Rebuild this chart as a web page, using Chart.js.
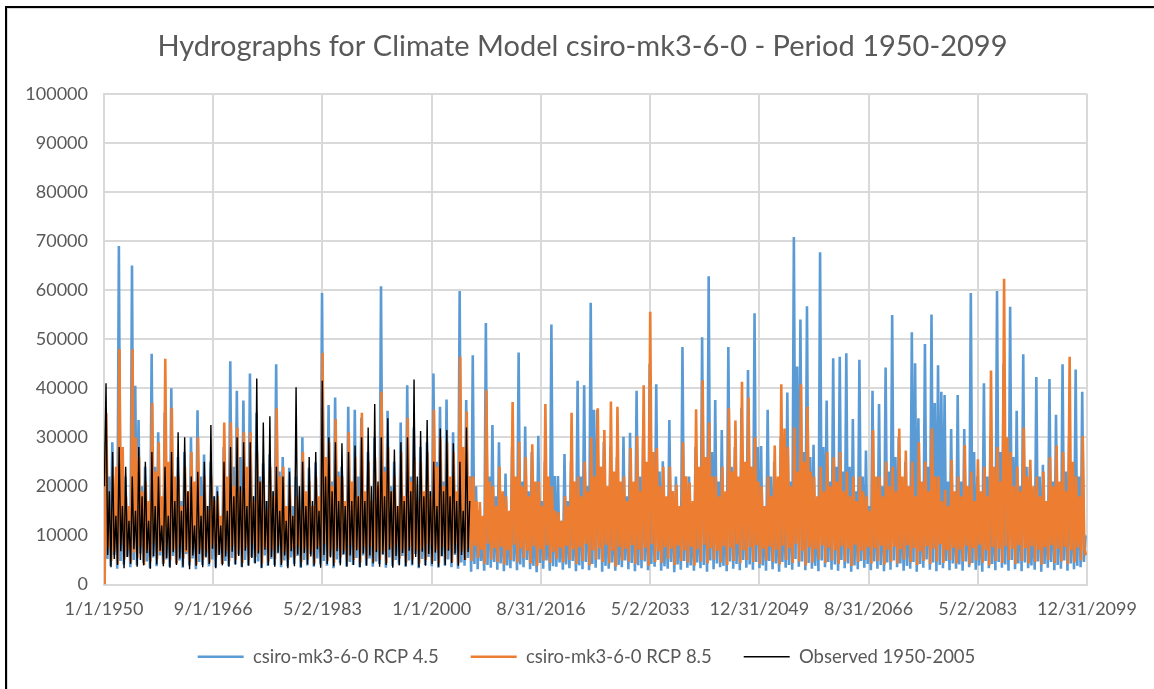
<!DOCTYPE html>
<html>
<head>
<meta charset="utf-8">
<script src="https://cdn.jsdelivr.net/npm/chart.js@4.4.1/dist/chart.umd.min.js"></script>
<style>
html,body{margin:0;padding:0;background:#fff;}
#wrap{position:relative;width:1154px;height:689px;overflow:hidden;background:#fff;}
#c{position:absolute;left:0;top:0;}
#frame{position:absolute;left:5px;top:6px;width:1300px;height:900px;border-left:2px solid #000;border-top:2px solid #000;pointer-events:none;}
#frame2{position:absolute;left:7px;top:8px;width:1300px;height:900px;border-left:1px solid #d9d9d9;border-top:1px solid #d9d9d9;pointer-events:none;}
</style>
</head>
<body>
<div id="wrap"><canvas id="c" width="1154" height="689"></canvas><div id="frame"></div><div id="frame2"></div></div>
<script>
const titleText = 'Hydrographs for Climate Model csiro-mk3-6-0 - Period 1950-2099';
const seriesNames = ['csiro-mk3-6-0 RCP 4.5', 'csiro-mk3-6-0 RCP 8.5', 'Observed 1950-2005'];
const xTickLabels = ['1/1/1950','9/1/1966','5/2/1983','1/1/2000','8/31/2016','5/2/2033','12/31/2049','8/31/2066','5/2/2083','12/31/2099'];
const modelStartYear = 1950;
const observedStartYear = 1950;

// ---- RCP 4.5 (one row = one decade; four samples per year: low, main peak, low, secondary peak)
const rcp45Peak = [
 29000,29000,69000,22000,65000,33500,24000,47000,31000,35000,
 40000,26000,27000,30000,35500,26500,25000,20000,28000,45500,
 39500,37500,43000,35000,24700,26500,44900,26000,23800,22000,
 30000,23800,24900,59400,36600,38100,24000,36200,35600,34000,
 27000,30000,60800,35400,25000,33000,40600,32000,28000,29000,
 43000,36200,37700,31000,59800,37600,46700,15000,53300,32500,
 29000,22600,28000,47300,32200,27000,30300,25000,53000,22100,
 26600,25000,41500,40600,57400,35600,29100,28000,26000,30100,
 30900,39500,30000,45000,40800,25100,33500,22000,48400,22000,
 28000,50400,62800,37600,31500,48400,28000,36000,43700,55300,
 28200,35600,25000,30000,39100,70800,54000,56700,28500,67700,
 37500,46100,46400,47100,33700,45800,27300,39500,36800,44200,
 54900,30000,25000,51400,33900,49000,55000,44700,38600,31700,
 38600,31700,59400,22000,41000,30000,59800,45000,56600,35400,
 46900,24000,42300,24400,41900,34600,44900,30000,43800,39300];
const rcp45Sub = [
 22000,18000,26000,14000,40500,20000,16000,24000,15000,19000,
 21000,17000,15000,19000,22000,16000,18000,13000,20000,24000,
 26000,21000,18000,22000,17000,19000,23000,15000,16000,14000,
 18000,15000,17000,25000,21000,23000,16000,20000,22000,18000,
 16000,19000,24000,20000,15000,18000,22000,17000,16000,19000,
 25000,21000,20000,18000,24000,22000,20000,11000,22000,18000,
 16000,14000,17000,21000,19000,15000,17000,14000,22100,13000,
 17000,15000,22000,20000,35600,24000,17000,16000,15000,18000,
 19000,22000,18000,20000,23000,15000,19000,14000,22000,15000,
 17000,25000,27000,21000,18000,24000,17000,20000,24000,28000,
 16000,22000,15000,18000,21000,44400,27000,26000,17000,28000,
 21000,24000,23000,24000,19000,22000,16000,21000,20000,23000,
 26000,18000,16000,45100,19000,24000,37000,39300,21000,18000,
 21000,19000,27000,15000,22000,18000,27000,23000,26000,20000,
 24000,15000,22000,16000,21000,20000,23000,18000,22000,10000];
const rcp45LowA = [
 9000,3800,3200,4100,3500,3900,4400,3300,3700,4200,
 3600,4300,3400,3900,3100,4000,3700,3500,4200,3800,
 4100,3600,3900,4400,3300,3800,4000,3500,3700,4200,
 3400,3900,3600,4100,3800,3300,4300,3700,4000,3500,
 3900,3600,4200,3400,3800,4100,3600,3900,3300,4000,
 3700,3400,3900,3500,3200,3800,2600,3100,2800,3400,
 3000,2700,3300,2900,3500,3100,2500,3200,2800,3600,
 3000,3300,2700,3100,2900,3400,2600,3200,2800,3500,
 3100,2700,3300,2900,3600,2800,3200,2500,3000,3400,
 2800,3300,2600,3100,3500,2700,3200,2900,3400,3000,
 3300,2800,3100,2600,3400,3000,3600,2900,3200,2700,
 3500,3000,2800,3300,2600,3100,3400,2900,3200,2700,
 3000,3500,2800,3200,2600,3400,3000,2700,3300,2900,
 3200,2800,3500,3000,2600,3300,2900,3400,2800,3100,
 2700,3300,3000,2600,3400,2900,3200,2800,3100,3500];
const rcp45LowB = [
 5200,6000,4800,5600,5000,6300,4700,5500,5900,5100,
 5800,4900,6200,5300,4600,5700,5100,6000,4800,5400,
 6100,5000,5600,4700,5900,5200,6300,4900,5500,5800,
 5000,6200,5300,4800,5700,5100,6000,4600,5400,5900,
 5300,4700,6100,5500,5000,5800,4900,6200,5200,5600,
 4800,5700,5100,6000,4500,5400,4200,4800,4000,4600,
 4300,3900,4700,4100,5000,3800,4400,4900,3700,4500,
 4100,4800,3900,4600,4200,5100,3800,4500,4000,4900,
 4400,3900,4700,4200,5000,3700,4600,4100,4800,3900,
 4500,4000,4900,4300,3800,4700,4200,5000,4100,4600,
 3900,4800,4300,4600,4000,5200,4700,4400,3800,4900,
 4600,4100,5000,4300,3900,4800,4200,4700,4000,4500,
 4900,4300,3800,4600,4200,5100,4500,4000,4800,4300,
 4100,4700,4400,3900,4800,4200,4600,4100,5000,4300,
 4500,3900,4700,4200,4600,4000,4900,4300,3800,4600];

// ---- RCP 8.5
const rcp85Peak = [
 35000,22000,48000,18000,48000,26000,21000,37000,29000,46000,
 36000,22000,24000,27000,30000,22000,22000,18000,33000,33000,
 32000,31000,31000,27000,22000,24000,35900,24000,20000,18000,
 27000,21000,22000,47200,29000,33700,22000,31000,26000,35000,
 25000,26000,39300,28000,22000,27000,34000,26000,25000,27000,
 35600,30000,29000,27000,46400,35300,22000,16800,39600,20000,
 24000,18000,37200,29100,26000,28600,21000,36800,20000,14700,
 18000,35000,22000,25000,30000,35900,31500,37300,36200,22000,
 27800,30200,40600,55600,27800,24000,24000,20300,29000,20800,
 35700,41600,33000,22000,24000,35900,33400,41300,38100,30000,
 20000,22000,28300,40800,28000,32000,40800,36200,22000,24000,
 27000,26000,27000,23000,22000,22000,18000,31500,22000,25000,
 24000,31800,27300,25000,29000,25000,31800,22000,19300,25400,
 22000,28400,23000,25500,24000,43600,28000,62300,27000,24000,
 32000,25400,22000,23000,26000,28300,27000,46400,22000,30200];
const rcp85Sub = [
 15000,24000,28000,16000,30000,19000,17000,23000,18000,25000,
 22000,16000,19000,21000,18000,15000,17000,14000,22000,20000,
 19000,24000,17000,21000,15000,18000,22000,16000,14000,15000,
 19000,16000,18000,26000,20000,22000,17000,21000,18000,19000,
 17000,20000,23000,19000,16000,18000,21000,17000,19000,18000,
 24000,20000,22000,19000,28000,22000,17000,14000,21000,16000,
 19000,15000,22000,20000,18000,21000,16000,22000,15000,13000,
 16000,21000,18000,19000,22000,24000,20000,23000,21000,17000,
 21000,19000,25000,27000,20000,18000,19000,16000,22000,17000,
 24000,26000,22000,18000,19000,23000,22000,25000,24000,21000,
 16000,18000,22000,31800,20000,23000,25000,23000,18000,19000,
 20000,21000,19000,18000,17000,19000,15000,22000,18000,20000,
 19000,22000,20000,18000,21000,19000,22000,17000,16000,19000,
 18000,20000,17000,19000,18000,24000,21000,30000,20000,19000,
 22000,20000,18000,17000,20000,21000,19000,25000,18000,6000];
const rcp85LowA = [
 0,4800,4200,5100,4500,5400,4000,4700,5200,4400,
 4900,4300,5300,4600,4100,5000,4500,5500,4200,4800,
 5100,4400,4900,5600,4300,4700,5200,4500,5000,5400,
 4600,5100,4300,5300,4800,4400,5500,4700,5000,4500,
 5200,4600,5000,4400,4900,5300,4500,5100,4300,5000,
 4700,4400,5200,4600,4300,5000,4800,5400,4200,5100,
 4600,4100,5000,4500,5300,4300,3800,4900,4400,5200,
 4500,5000,4200,4800,3900,5100,4600,4300,3600,4900,
 4700,4200,5000,3800,4600,4400,5200,4000,4800,4500,
 3900,4700,4300,5100,4500,4000,4800,4400,5000,4600,
 4200,4900,4600,4100,5000,4400,4700,3900,4500,5100,
 4400,4900,4200,4700,3800,4600,5000,4300,4800,4100,
 4600,4300,5100,4500,4000,4800,4200,4700,4400,5000,
 4300,4700,4100,4900,4500,3900,4800,4400,5000,4200,
 4800,4300,4600,4100,5000,4400,4700,4200,4500,4900];
const rcp85LowB = [
 7500,6800,8200,7100,6500,7900,7000,8400,6700,7600,
 7200,8000,6600,7700,7300,6900,8100,7400,6800,7800,
 7000,7600,8300,6900,7500,7100,8000,6700,7400,7900,
 7300,6800,7700,8200,7000,7500,6900,8100,7200,7600,
 7800,7100,6800,7500,8000,7200,7700,6900,7400,8100,
 7000,7600,7300,8200,6800,7500,7900,7100,8300,7400,
 7700,7000,8100,7300,6900,7800,7200,8000,6700,7500,
 7900,7200,7600,8300,7000,7400,8100,6900,7700,7300,
 8000,7100,7500,8200,6800,7600,7300,7900,7000,7700,
 7200,8100,7400,6900,7800,7500,8200,7000,7600,8000,
 7300,7700,7100,7900,7400,8300,6900,7600,7200,8000,
 7500,7000,7800,7300,8100,6900,7600,7400,7900,7100,
 7700,7200,8000,7400,6800,7800,7300,8200,7000,7500,
 7100,7900,7400,8100,7000,7600,7300,7800,7200,8000,
 7400,7800,7100,7600,8000,7300,7700,7000,7500,7200];

// ---- Observed 1950-2005
const obsPeak = [
 41000,27000,28000,24000,22000,28000,25000,27000,22000,24000,
 27000,31000,30000,22000,23000,25000,32500,19000,25000,28000,
 30000,29000,29000,42000,33000,34300,24000,22000,23000,40200,
 25000,26000,27000,41500,30000,29000,28800,27000,28300,30000,
 32000,36800,30000,33900,27500,29000,30000,41800,31300,33500,
 25000,31800,31500,28800,25000,32000];
const obsSub = [
 19000,14000,16000,13000,15000,18000,13000,16000,12000,14000,
 17000,15000,19000,12000,14000,16000,18000,12000,15000,18000,
 20000,16000,18000,21000,17000,19000,15000,13000,14000,20000,
 16000,17000,15000,22000,19000,17000,16000,17000,18000,17000,
 20000,21000,18000,19000,16000,17000,19000,22000,18000,19000,
 16000,19000,18000,17000,15000,17000];
const obsLowA = [
 20000,3500,4000,3300,4200,3600,3900,3200,4100,3700,
 3400,4000,3600,3100,3800,3500,4200,3300,3900,3600,
 4100,3500,3800,4300,3400,3900,3600,4000,3300,3700,
 3500,4100,3800,3400,4200,3700,3900,3600,4000,3500,
 3800,4300,3600,4000,3400,3900,3700,4100,3500,3800,
 4200,3600,3900,4400,3800,5000];
const obsLowB = [
 6000,5200,6800,5600,7200,5000,6400,5800,6900,5400,
 6600,5300,7000,5900,6200,5500,7300,6000,5700,6700,
 5800,6900,5400,6300,7100,5600,6500,5900,6800,6100,
 6400,5700,7200,6000,5500,6800,6200,5900,7000,6300,
 5900,6600,6100,7100,5800,6400,6900,5600,6700,6200,
 6500,5800,6900,6300,6000,6600];

// fraction of the year at which each of the four yearly samples falls
const rcp45Phase = [0.02, 0.27, 0.52, 0.77];
const rcp85Phase = [0.10, 0.35, 0.60, 0.85];
const obsPhase   = [0.06, 0.31, 0.56, 0.81];

function buildSeries(startYear, lowA, peak, lowB, sub, phase) {
  const pts = [];
  for (let i = 0; i < peak.length; i++) {
    const vals = [lowA[i], peak[i], lowB[i], sub[i]];
    for (let k = 0; k < 4; k++) pts.push({x: startYear + i + phase[k], y: vals[k]});
  }
  return pts;
}

const textColor = '#595959';
const gridColor = '#d9d9d9';
const FONT = 'Lato, "Open Sans", sans-serif';

// centre the title and legend on the whole frame rather than on the padded box
const shiftBoxes = {
  id: 'shiftBoxes',
  afterLayout(chart) {
    if (chart.titleBlock) { chart.titleBlock.left += 34; chart.titleBlock.right += 34; }
    if (chart.legend) { chart.legend.left += 38; chart.legend.right += 38; }
  }
};

new Chart(document.getElementById('c').getContext('2d'), {
  type: 'line',
  data: {
    datasets: [
      {label: seriesNames[0], data: buildSeries(modelStartYear, rcp45LowA, rcp45Peak, rcp45LowB, rcp45Sub, rcp45Phase),
       borderColor: '#5B9BD5', backgroundColor: '#5B9BD5', borderWidth: 2.6, pointRadius: 0, tension: 0, order: 2},
      {label: seriesNames[1], data: buildSeries(modelStartYear, rcp85LowA, rcp85Peak, rcp85LowB, rcp85Sub, rcp85Phase),
       borderColor: '#ED7D31', backgroundColor: '#ED7D31', borderWidth: 2.6, pointRadius: 0, tension: 0, order: 1},
      {label: seriesNames[2], data: buildSeries(observedStartYear, obsLowA, obsPeak, obsLowB, obsSub, obsPhase),
       borderColor: '#000000', backgroundColor: '#000000', borderWidth: 1.4, pointRadius: 0, tension: 0, order: 0}
    ]
  },
  plugins: [shiftBoxes],
  options: {
    responsive: false,
    animation: false,
    devicePixelRatio: 1,
    layout: {padding: {left: 10, right: 67, top: 0, bottom: 13}},
    plugins: {
      title: {display: true, text: titleText, color: textColor,
              font: {family: FONT, size: 29, weight: 'normal'}, padding: {top: 29, bottom: 30}},
      legend: {position: 'bottom',
               labels: {usePointStyle: true, pointStyle: 'line', pointStyleWidth: 46, boxHeight: 18,
                        color: textColor, font: {family: FONT, size: 18.5}, padding: 32,
                        sort: (a, b) => a.datasetIndex - b.datasetIndex}},
      tooltip: {enabled: false}
    },
    scales: {
      x: {type: 'linear', min: 1950, max: 2100,
          afterBuildTicks: s => { s.ticks = xTickLabels.map((_, i) => ({value: 1950 + i * 150 / 9})); },
          afterFit: s => { s.height = 31; },
          ticks: {callback: (v, i) => xTickLabels[i], color: textColor, font: {family: FONT, size: 18},
                  maxRotation: 0, autoSkip: false, padding: 14},
          grid: {color: gridColor, lineWidth: 2, drawTicks: false},
          border: {color: gridColor, width: 2}},
      y: {min: 0, max: 100000,
          afterFit: s => { s.width = 94; },
          ticks: {stepSize: 10000, callback: v => String(v), color: textColor, font: {family: FONT, size: 18}, padding: 16},
          grid: {color: gridColor, lineWidth: 2, drawTicks: false},
          border: {color: gridColor, width: 2}}
    }
  }
});
</script>
</body>
</html>
